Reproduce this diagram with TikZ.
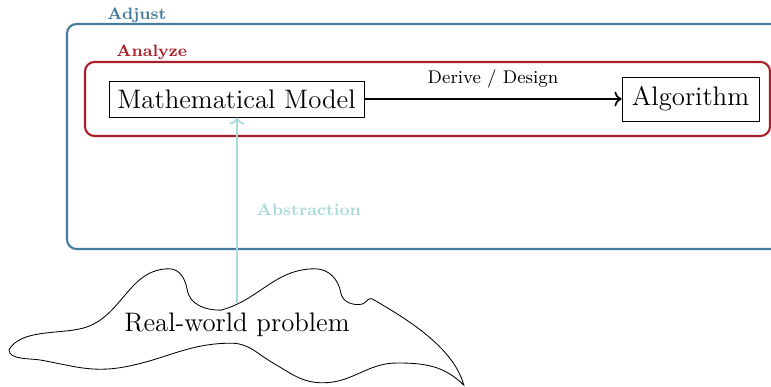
\documentclass[tikz,border=0pt]{standalone}
\usepackage{xcolor}
\usepackage{tikz}
\usetikzlibrary{positioning, arrows.meta}
\definecolor{adjustblue}{RGB}{69, 123, 157}
\definecolor{analyzered}{RGB}{170, 30, 42}
\definecolor{abstractteal}{RGB}{168, 218, 220}

\begin{document}
\begin{tikzpicture}[
    phase/.style={rounded corners=4.5pt, line width=1pt},
    phaselabel/.style={anchor=base west, inner sep=0pt, font=\fontsize{7.8}{9}\selectfont\bfseries},
    stagebox/.style={draw, thin, font=\fontsize{12.7}{15}\selectfont, inner sep=0pt}
]
    \useasboundingbox (0,0) rectangle (12.85,6.45);
    % loops
    \draw[phase, adjustblue] (13.5,2.3) -- (1.117,2.3) -- (1.117,6.05) -- (13.5,6.05);
    \node[phaselabel, text=adjustblue] (adjust) at (1.783,6.117) {Adjust};
    \draw[phase, analyzered] (1.417,4.183) rectangle (12.833,5.417);
    \node[phaselabel, text=analyzered] (analyze) at (1.933,5.5) {Analyze};

    % the two stages
    \node[stagebox, minimum width=4.25cm, minimum height=0.6cm] (model) at (3.942,4.8) {Mathematical Model};
    \node[stagebox, minimum width=2.283cm, minimum height=0.733cm] (algo) at (11.508,4.8) {Algorithm};
    \draw[->, thick] (model) -- (algo)
        node[midway, above=0.5mm, font=\fontsize{8.7}{10}\selectfont] (derive) {Derive / Design};

    % the real world
    \draw[thin] (0.15,0.62)
        to[out=60, in=195, looseness=0.8] (1.38,0.98)
        to[out=15, in=180] (2.82,1.97)
        to[out=0, in=100] (3.12,1.62)
        to[out=-80, in=180] (3.68,1.28)
        to[out=15, in=180] (5.25,1.97)
        to[out=0, in=100] (5.68,1.57)
        to[out=-80, in=190] (6.03,1.38)
        to[out=10, in=160] (6.20,1.47)
        to[out=-30, in=105, looseness=0.8] (7.73,0.03)
        to[out=135, in=0] (6.62,0.40)
        to[out=180, in=0] (5.38,0.07)
        to[out=180, in=-30] (4.55,0.40)
        to[out=150, in=0] (3.85,0.73)
        to[out=180, in=10] (2.05,0.33)
        to[out=190, in=-10] (0.67,0.45)
        to[out=170, in=-90, looseness=0.8] cycle;
    \coordinate (cloudtop) at (3.95,1.40);
    \node[font=\fontsize{12.7}{15}\selectfont] (problem) at (3.95,1.03) {Real-world problem};

    \draw[->, thick, abstractteal] (cloudtop) -- (cloudtop |- model.south)
        node[midway, right=2mm, font=\fontsize{7.8}{9}\selectfont\bfseries] (abstraction) {Abstraction};
\end{tikzpicture}
\end{document}
